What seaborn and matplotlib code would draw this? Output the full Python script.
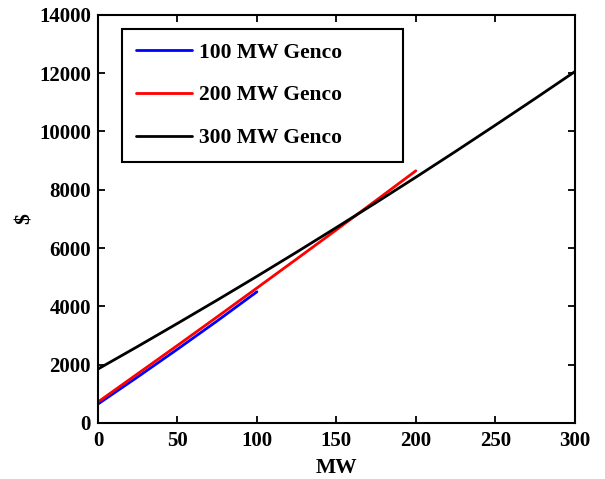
import matplotlib
matplotlib.use("Agg")
import matplotlib.pyplot as plt
import seaborn as sns
import pandas as pd

mw_100 = [0, 25, 50, 75, 100]
cost_100 = [650, 1580, 2530, 3500, 4500]

mw_200 = [0, 25, 50, 75, 100, 125, 150, 175, 200]
cost_200 = [720, 1690, 2660, 3640, 4630, 5625, 6625, 7635, 8650]

mw_300 = [0, 25, 50, 75, 100, 125, 150, 175, 200, 225, 250, 275, 300]
cost_300 = [1850, 2625, 3415, 4215, 5030, 5860, 6705, 7560, 8430, 9315, 10215, 11125, 12050]

labels = ["100 MW Genco", "200 MW Genco", "300 MW Genco"]
colors = ["#0000ff", "#ff0000", "#000000"]

df = pd.concat([
    pd.DataFrame({"MW": mw_100, "cost": cost_100, "unit": labels[0]}),
    pd.DataFrame({"MW": mw_200, "cost": cost_200, "unit": labels[1]}),
    pd.DataFrame({"MW": mw_300, "cost": cost_300, "unit": labels[2]}),
], ignore_index=True)

sns.set_style("ticks")
plt.rcParams['font.family'] = ['Liberation Serif', 'DejaVu Serif']
plt.rcParams['font.weight'] = 'bold'
plt.rcParams['text.color'] = 'black'
plt.rcParams['axes.labelcolor'] = 'black'

fig = plt.figure(figsize=(6.05, 4.79), dpi=100)
ax = fig.add_axes([0.162, 0.117, 0.788, 0.852])

sns.lineplot(data=df, x="MW", y="cost", hue="unit", palette=colors,
             hue_order=labels, linewidth=2, ax=ax, sort=False, estimator=None)

ax.set_xlim(0, 300)
ax.set_ylim(0, 14000)
ax.set_xticks(range(0, 301, 50))
ax.set_yticks(range(0, 14001, 2000))
ax.set_xlabel("MW", fontsize=15.5, fontweight='bold', labelpad=5, color='black')
ax.set_ylabel("$", fontsize=15.5, fontweight='bold', labelpad=3, color='black')
ax.tick_params(direction='in', length=5, width=1.3, labelsize=15,
               top=True, right=True, colors='black', pad=5)
ax.tick_params(axis='x', pad=6)
for lab in ax.get_xticklabels() + ax.get_yticklabels():
    lab.set_fontweight('bold')
    lab.set_color('black')
for sp in ax.spines.values():
    sp.set_visible(True)
    sp.set_linewidth(1.5)
    sp.set_color('black')

leg = ax.legend(loc='upper left', bbox_to_anchor=(0.050, 0.0, 0.589, 0.966),
                mode='expand', fontsize=15.5, framealpha=1,
                frameon=True, fancybox=False, edgecolor='black',
                handlelength=2.6, labelspacing=1.05, borderpad=0.65,
                handletextpad=0.35, borderaxespad=0)
leg.get_frame().set_linewidth(1.5)
for t in leg.get_texts():
    t.set_fontweight('bold')
    t.set_color('black')
for l in leg.get_lines():
    l.set_linewidth(2)

fig.savefig("out.png", dpi=100)
